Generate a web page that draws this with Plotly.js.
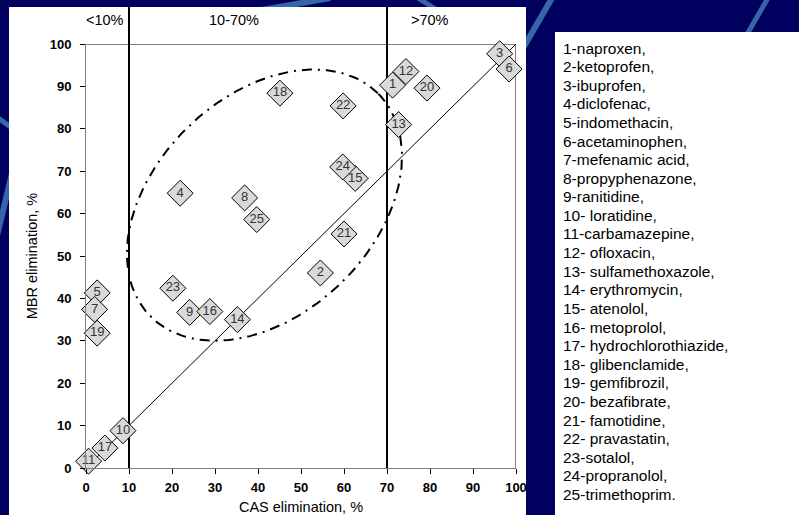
<!DOCTYPE html>
<html>
<head>
<meta charset="utf-8">
<script src="https://cdn.plot.ly/plotly-3.0.1.min.js"></script>
<style>
  html, body { margin: 0; padding: 0; background: #00005e; }
  #chart { width: 799px; height: 515px; }
</style>
</head>
<body>
<div id="chart"></div>
<script>
// ---- Data ----
const compoundIds = ['1','2','3','4','5','6','7','8','9','10','11','12','13','14','15','16','17','18','19','20','21','22','23','24','25'];
const casElimination = [71.3, 54.5, 96.2, 21.9, 2.6, 98.4, 2.0, 36.9, 24.1, 8.6, 0.6, 74.4, 72.7, 35.2, 62.6, 28.8, 4.4, 45.1, 2.6, 79.3, 60.0, 59.8, 20.2, 59.7, 39.7];
const mbrElimination = [90.3, 46.0, 97.7, 64.8, 41.3, 94.1, 37.4, 63.7, 36.7, 8.8, 1.6, 93.5, 81.0, 35.0, 68.3, 36.9, 4.7, 88.4, 31.8, 89.6, 55.2, 85.4, 42.4, 71.0, 58.6];
const compoundNames = [
  '1-naproxen,', '2-ketoprofen,', '3-ibuprofen,', '4-diclofenac,', '5-indomethacin,',
  '6-acetaminophen,', '7-mefenamic acid,', '8-propyphenazone,', '9-ranitidine,', '10- loratidine,',
  '11-carbamazepine,', '12- ofloxacin,', '13- sulfamethoxazole,', '14- erythromycin,', '15- atenolol,',
  '16- metoprolol,', '17- hydrochlorothiazide,', '18- glibenclamide,', '19- gemfibrozil,', '20- bezafibrate,',
  '21- famotidine,', '22- pravastatin,', '23-sotalol,', '24-propranolol,', '25-trimethoprim.'
];
const xTickVals = [0, 10, 20, 30, 40, 50, 60, 70, 80, 90, 100];
const yTickVals = [0, 10, 20, 30, 40, 50, 60, 70, 80, 90, 100];
const regionBounds = [10, 70];
const regionLabels = ['<10%', '10-70%', '>70%'];
const regionLabelX = [4.4, 34.4, 80];
const diagonalLine = [0, 100];
// dash-dot ellipse: centre, semi-axes, tilt (degrees)
const ellipseCenter = [41.5, 62];
const ellipseAxes = [37.3, 25.6];
const ellipseTilt = 45;

// ---- Layout helpers (pixel -> paper) ----
const W = 799, H = 515;
const M = {l: 86, r: 283, t: 44, b: 47};
const PW = W - M.l - M.r, PH = H - M.t - M.b;
const px = v => (v - M.l) / PW;
const py = v => (H - M.b - v) / PH;

// ellipse outline
const ex = [], ey = [];
const th = ellipseTilt * Math.PI / 180;
for (let i = 0; i <= 240; i++) {
  const t = 2 * Math.PI * i / 240;
  const u = ellipseAxes[0] * Math.cos(t), v = ellipseAxes[1] * Math.sin(t);
  ex.push(ellipseCenter[0] + u * Math.cos(th) - v * Math.sin(th));
  ey.push(ellipseCenter[1] + u * Math.sin(th) + v * Math.cos(th));
}

const FONT = 'Liberation Sans, Arial, sans-serif';

const traces = [
  {x: diagonalLine, y: diagonalLine, mode: 'lines', line: {color: '#000', width: 1}, hoverinfo: 'skip', cliponaxis: false},
  {x: ex, y: ey, mode: 'lines', line: {color: '#000', width: 2, dash: '10px,6px,2px,6px'}, hoverinfo: 'skip', cliponaxis: false},
  {
    x: casElimination, y: mbrElimination, text: compoundIds,
    mode: 'markers+text', textposition: 'middle center', cliponaxis: false,
    marker: {symbol: 'diamond', size: 20, color: '#d9d9d9', line: {color: '#000', width: 1}},
    textfont: {family: FONT, size: 13, color: '#333'}
  }
];

const stripe = (x0, y0, x1, y1, w) => ({type: 'line', xref: 'paper', yref: 'paper', layer: 'below',
  x0: px(x0), y0: py(y0), x1: px(x1), y1: py(y1), line: {color: '#3566a6', width: w || 5}});

const shapes = [
  stripe(262, 10, 330, -2, 6),
  stripe(418, -2, 440, 12, 5),
  stripe(552, -2, 522, 50, 6),
  stripe(768, -2, 746, 36, 5),
  stripe(12, 128, -2, 118, 5),
  stripe(14, 165, -4, 240, 6),
  // white chart panel and white list panel
  {type: 'rect', xref: 'paper', yref: 'paper', layer: 'below', x0: px(9), x1: px(526), y0: py(516), y1: py(7), fillcolor: '#fff', line: {width: 0}},
  {type: 'rect', xref: 'paper', yref: 'paper', layer: 'below', x0: px(555), x1: px(800), y0: py(516), y1: py(32), fillcolor: '#fff', line: {width: 0}},
  // box top and right
  {type: 'line', xref: 'x', yref: 'y', layer: 'below', x0: 0, x1: 100, y0: 100, y1: 100, line: {color: '#000', width: 1}},
  {type: 'line', xref: 'x', yref: 'y', layer: 'below', x0: 100, x1: 100, y0: 0, y1: 100, line: {color: '#000', width: 1}}
];
regionBounds.forEach(b => shapes.push({type: 'line', xref: 'x', yref: 'paper', layer: 'below',
  x0: b, x1: b, y0: 0, y1: py(7), line: {color: '#000', width: 2}}));

const annotations = regionLabels.map((t, i) => ({
  text: t, x: regionLabelX[i], xref: 'x', y: py(20), yref: 'paper', showarrow: false,
  xanchor: 'center', yanchor: 'middle', font: {family: FONT, size: 14.5, color: '#000'}
}));
compoundNames.forEach((n, i) => annotations.push({
  text: n, xref: 'paper', yref: 'paper', x: px(561), y: py(48 + i * 18.6), showarrow: false,
  xanchor: 'left', yanchor: 'middle', font: {family: FONT, size: 15.5, color: '#000'}
}));

const layout = {
  width: W, height: H, margin: M,
  paper_bgcolor: '#00005e', plot_bgcolor: '#ffffff',
  showlegend: false,
  xaxis: {
    range: [0, 100], tickvals: xTickVals, ticktext: xTickVals.map(String),
    showgrid: false, zeroline: false, showline: true, linecolor: '#7f7f7f', linewidth: 1,
    ticks: 'outside', ticklen: 5, tickcolor: '#000', ticklabelstandoff: 2,
    tickfont: {family: FONT, size: 13, color: '#000', weight: 'bold'},
    title: {text: 'CAS elimination, %', standoff: 8, font: {family: FONT, size: 14.5, color: '#000'}},
    automargin: false, fixedrange: true
  },
  yaxis: {
    range: [0, 100], tickvals: yTickVals, ticktext: yTickVals.map(String),
    showgrid: false, zeroline: false, showline: true, linecolor: '#7f7f7f', linewidth: 1,
    ticks: 'outside', ticklen: 5, tickcolor: '#000', ticklabelstandoff: 6,
    tickfont: {family: FONT, size: 13, color: '#000', weight: 'bold'},
    title: {text: 'MBR elimination, %', standoff: 8, font: {family: FONT, size: 14.5, color: '#000'}},
    automargin: false, fixedrange: true
  },
  shapes: shapes,
  annotations: annotations
};

Plotly.newPlot('chart', traces, layout, {displayModeBar: false, staticPlot: true});
</script>
</body>
</html>
